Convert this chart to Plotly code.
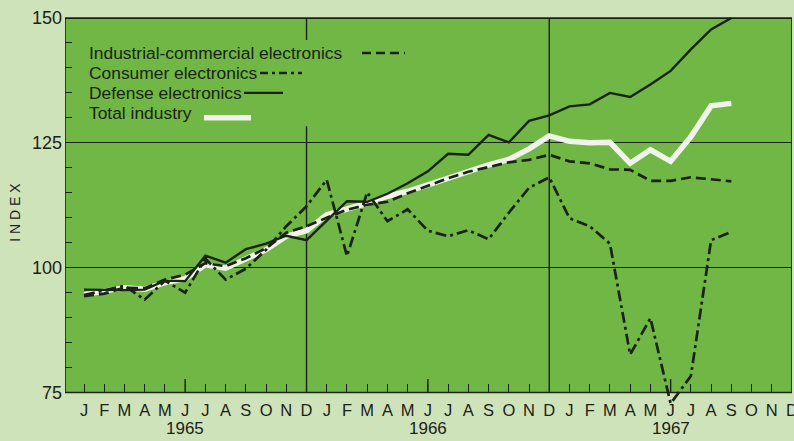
import plotly.graph_objects as go

months = ["J", "F", "M", "A", "M", "J", "J", "A", "S", "O", "N", "D"] * 3
years = ["1965", "1966", "1967"]

industrial = [94.3, 94.8, 96.0, 95.9, 97.6, 98.6, 100.9, 100.3, 101.9, 103.9, 107.0, 108.3,
              110.0, 111.6, 112.6, 113.2, 114.9, 116.4, 117.9, 119.2, 120.2, 121.1, 121.6, 122.6,
              121.3, 120.9, 119.7, 119.6, 117.4, 117.4, 118.1, 117.7, 117.3]
consumer = [94.5, 95.5, 96.4, 93.6, 97.4, 95.0, 101.8, 97.6, 99.8, 103.6, 108.3, 112.3,
            117.6, 102.3, 115.1, 109.3, 111.7, 107.4, 106.3, 107.5, 105.7, 111.0, 116.0, 118.1,
            109.9, 108.3, 104.8, 82.6, 89.9, 72.8, 78.3, 105.5, 107.2]
defense = [95.6, 95.5, 95.5, 95.6, 97.4, 97.3, 102.4, 101.0, 103.7, 104.8, 106.4, 105.5,
           109.5, 113.3, 113.2, 114.8, 116.9, 119.3, 122.8, 122.6, 126.6, 125.1, 129.4, 130.5,
           132.3, 132.7, 135.0, 134.2, 136.7, 139.4, 143.7, 147.7, 150.0]
total = [94.6, 95.2, 96.0, 95.7, 97.0, 97.8, 100.6, 99.9, 101.9, 103.6, 106.3, 107.4,
         110.6, 111.7, 112.9, 114.3, 115.3, 116.6, 118.0, 119.3, 120.6, 121.7, 123.8, 126.4,
         125.3, 125.0, 125.1, 120.9, 123.6, 121.3, 126.2, 132.4, 132.9]

legend_names = ["Industrial-commercial electronics", "Consumer electronics",
                "Defense electronics", "Total industry"]

X0, X1 = -0.94, 35.0
Y0, Y1 = 71.5, 150.6
INK = "#1b2216"
GREEN = "#70b746"
PAGE = "#cfe3bb"
WHITE = "#f1f3ea"
FONT = "Liberation Sans, Arial, sans-serif"

x = list(range(len(total)))

fig = go.Figure()
fig.add_trace(go.Scatter(x=x, y=total, mode="lines", name=legend_names[3],
                         line=dict(color=WHITE, width=5.5)))
fig.add_trace(go.Scatter(x=x, y=industrial, mode="lines", name=legend_names[0],
                         line=dict(color=INK, width=2.7, dash="10px,5px")))
fig.add_trace(go.Scatter(x=x, y=consumer, mode="lines", name=legend_names[1],
                         line=dict(color=INK, width=2.7, dash="11px,4px,3px,4px")))
fig.add_trace(go.Scatter(x=x, y=defense, mode="lines", name=legend_names[2],
                         line=dict(color=INK, width=2.4)))

shapes = []
shapes.append(dict(type="rect", xref="x", yref="y", x0=X0, x1=X1, y0=75, y1=150,
                   fillcolor=GREEN, line=dict(color=INK, width=1.6), layer="below"))
shapes.append(dict(type="line", xref="x", yref="y", x0=11, x1=11, y0=75, y1=128.3,
                   line=dict(color=INK, width=1.4), layer="below"))
shapes.append(dict(type="line", xref="x", yref="y", x0=11, x1=11, y0=145.6, y1=150,
                   line=dict(color=INK, width=1.4), layer="below"))
shapes.append(dict(type="line", xref="x", yref="y", x0=23, x1=23, y0=75, y1=150,
                   line=dict(color=INK, width=1.4), layer="below"))
for mid in (5, 17, 29):
    shapes.append(dict(type="line", xref="x", yref="y", x0=mid, x1=mid, y0=75, y1=77.7,
                       line=dict(color=INK, width=1.4), layer="below"))

W, H = 794, 441
ML, MR, MT, MB = 65, 2, 15, 30.5
pw = W - ML - MR
ph = H - MT - MB


def px_to_paper(px, py):
    return (px - ML) / pw, 1 - (py - MT) / ph


annotations = []
leg_y = [53, 73, 93, 113]
samples = [
    dict(x0=362, x1=405, dash="9px,5px", width=2.4, color=INK, dy=0),
    dict(x0=260, x1=302, dash="8px,4px,3px,4px", width=2.4, color=INK, dy=0),
    dict(x0=244, x1=283, dash="solid", width=2.4, color=INK, dy=0),
    dict(x0=204, x1=251, dash="solid", width=5.5, color=WHITE, dy=5),
]
for name, yy, s in zip(legend_names, leg_y, samples):
    ax, ay = px_to_paper(87, yy)
    annotations.append(dict(text=name, x=ax, y=ay, xref="paper", yref="paper",
                            xanchor="left", yanchor="middle", showarrow=False,
                            font=dict(family=FONT, size=17.4, color=INK)))
    sx0, sy = px_to_paper(s["x0"], yy + s["dy"])
    sx1, _ = px_to_paper(s["x1"], yy + s["dy"])
    shapes.append(dict(type="line", xref="paper", yref="paper", x0=sx0, x1=sx1,
                       y0=sy, y1=sy, line=dict(color=s["color"], width=s["width"],
                                               dash=s["dash"])))

for i, yr in enumerate(years):
    annotations.append(dict(text=yr, x=5 + 12 * i, y=(75 - Y0) / (Y1 - Y0),
                            xref="x", yref="paper", yshift=-36,
                            xanchor="center", yanchor="middle", showarrow=False,
                            font=dict(family=FONT, size=17, color=INK)))

ix, iy = px_to_paper(15, 213)
annotations.append(dict(text="I N D E X", x=ix, y=iy, xref="paper", yref="paper",
                        xanchor="center", yanchor="middle", showarrow=False,
                        textangle=-90, font=dict(family=FONT, size=14, color=INK)))

fig.update_layout(
    width=W, height=H, autosize=False,
    margin=dict(l=ML, r=MR, t=MT, b=MB, autoexpand=False),
    paper_bgcolor=PAGE, plot_bgcolor=PAGE,
    showlegend=False,
    font=dict(family=FONT, color=INK),
    shapes=shapes, annotations=annotations,
    xaxis=dict(range=[X0, X1], tickmode="array", tickvals=list(range(36)),
               ticktext=months, ticks="inside", ticklen=9, tickwidth=1.4,
               tickcolor=INK, showgrid=False, zeroline=False, showline=False,
               anchor="free", position=(75 - Y0) / (Y1 - Y0), automargin=False,
               ticklabeloverflow="allow",
               tickfont=dict(family=FONT, size=16.5, color=INK), ticklabelstandoff=6),
    yaxis=dict(range=[Y0, Y1], tickmode="array", tickvals=[75, 100, 125, 150],
               ticks="", showgrid=True, gridcolor=INK, gridwidth=1.4, automargin=False,
               zeroline=False, showline=False, ticklabelstandoff=2,
               tickfont=dict(family=FONT, size=18, color=INK),
               minor=dict(tickmode="array", tickvals=[80, 85, 90, 95, 105, 110, 115, 120,
                                                       130, 135, 140, 145],
                          ticks="inside", ticklen=7, tickwidth=1.4, tickcolor=INK,
                          showgrid=False)),
)

fig.write_html("out.html", config={"responsive": False, "displayModeBar": False},
               post_script="document.body.style.margin='0';document.body.style.overflow='hidden';")
